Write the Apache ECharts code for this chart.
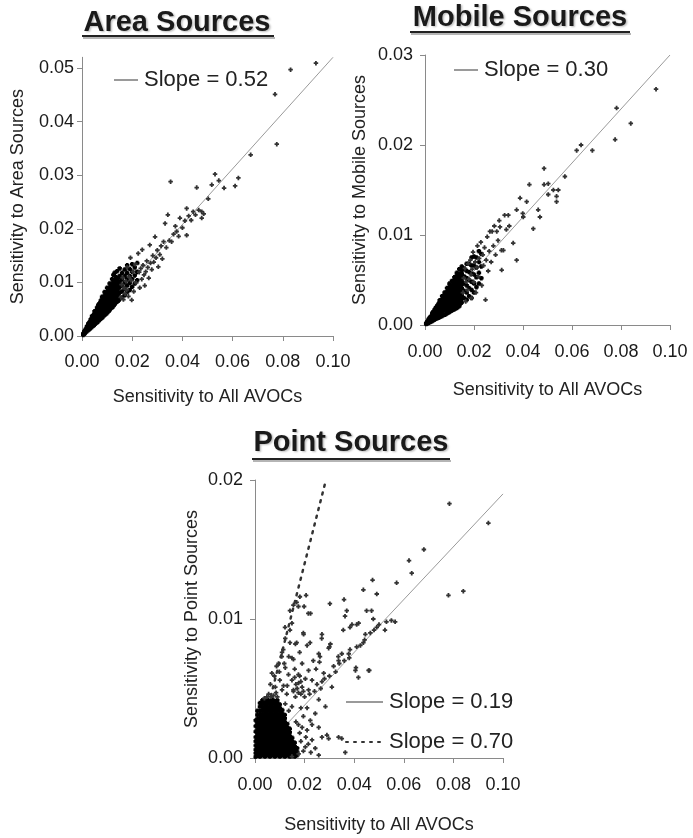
<!DOCTYPE html>
<html>
<head>
<meta charset="UTF-8">
<title>Source Sensitivities</title>
<script src="https://cdn.jsdelivr.net/npm/echarts@6/dist/echarts.min.js"></script>
<style>html,body{margin:0;padding:0;background:#fff;}</style>
</head>
<body>
<div id="main" style="width:693px;height:838px"></div>
<script type="text/javascript">
// tick labels
var xTicks = [0, 0.02, 0.04, 0.06, 0.08, 0.10];
var areaYTicks = [0, 0.01, 0.02, 0.03, 0.04, 0.05];
var mobileYTicks = [0, 0.01, 0.02, 0.03];
var pointYTicks = [0, 0.01, 0.02];

// fitted lines
var slopeNames = ['Slope = 0.52', 'Slope = 0.30', 'Slope = 0.19', 'Slope = 0.70'];
var areaFit = [[0, 0], [0.1, 0.052]];
var mobileFit = [[0, 0], [0.1, 0.030]];
var pointFit = [[0, 0], [0.1, 0.019]];
var pointFit2 = [[0, 0], [0.0286, 0.020]];

// scatter values, in units of 0.001
// dense clusters as columns: [x, [y, y, ...]]
var areaCore = [
  [0.5,[0.2,0.35,0.45]], [1,[0.4,0.6,0.8,0.9]], [1.5,[0.7,0.9,1.1,1.3]],
  [2,[0.9,1.1,1.3,1.5,1.8]], [2.5,[1.1,1.4,1.7,2.0,2.3]], [3,[1.3,1.6,1.9,2.2,2.6]],
  [3.5,[1.5,1.9,2.3,2.7,3.1]], [4,[1.7,2.1,2.5,2.9,3.3,3.7]], [4.5,[1.9,2.4,2.9,3.4,3.9]],
  [5,[2.1,2.6,3.1,3.6,4.1,4.6]], [5.5,[2.4,2.9,3.5,4.0,4.6]], [6,[2.5,3.0,3.6,4.1,4.7,5.3]],
  [6.5,[2.8,3.4,4.0,4.6,5.2,5.8]], [7,[3.0,3.6,4.2,4.8,5.4,6.1]], [7.5,[3.2,3.9,4.5,5.2,5.8,6.6]],
  [8,[3.4,4.1,4.8,5.4,6.1,6.8,7.3]], [8.5,[3.7,4.4,5.1,5.8,6.5,7.2]], [9,[3.9,4.6,5.3,6.0,6.7,7.5,8.2]],
  [9.5,[4.1,4.9,5.7,6.4,7.1,7.9]], [10,[4.3,5.1,5.9,6.6,7.4,8.2,9.0]], [10.5,[4.6,5.5,6.3,7.0,7.8,8.7]],
  [11,[4.8,5.7,6.5,7.3,8.1,9.0,9.8]], [11.5,[5.2,6.1,6.9,7.7,8.6,9.4]], [12,[5.3,6.2,7.1,8.0,8.8,9.6,10.6]],
  [12.5,[5.6,6.6,7.4,8.3,9.2,10.1,11.4]], [13,[5.9,6.8,7.8,8.6,9.5,10.4,11.8]], [13.5,[6.2,7.1,8.1,9.0,10.0,11.0]],
  [14,[6.4,7.5,8.4,9.3,10.3,12.1]], [14.5,[6.6,7.8,8.9,9.8,10.8]], [15,[6.9,8.1,9.1,10.1,11.2,12.6]],
  [16,[7.2,8.3,9.4,10.6,11.8]], [17,[7.6,8.8,10.0,11.2,12.4]], [18,[8.2,9.4,10.6,11.8,13.2]],
  [19,[8.6,9.9,11.2,12.5]], [20,[9.2,10.6,12.0,13.4]], [21,[9.8,11.3,12.8]], [22,[10.4,12.0,13.6]]
];
var areaSparse = [
  [15.5,7.2],[15.8,9.6],[16.2,10.9],[16.5,6.8],[16.8,9.0],[17.2,7.9],[17.5,10.2],[17.8,8.6],
  [18,12.8],[18.5,7.4],[18.8,11.0],[19.3,14.6],[19.5,10.4],[19.8,6.7],[20.3,12.0],[20.6,8.3],
  [21.3,13.4],[21.6,9.9],[22.4,15.4],[22.8,11.9],[23,9.0],[23.4,12.6],[23.8,10.6],[24,16.1],
  [24.3,13.2],[24.7,11.4],[25,9.4],[25.4,12.0],[25.8,14.0],[26.2,12.8],[26.6,10.8],[27,17.0],
  [27.3,13.6],[27.8,12.4],[28.2,15.0],[28.6,13.8],[29.1,18.5],[29.5,14.6],[30,16.0],[30.4,12.9],
  [31,15.2],[31.5,16.8],[32,14.4],[32.5,17.6],[33.1,21.0],[33.6,16.5],[34.2,22.6],[34.8,17.8],
  [35.3,28.8],[35.7,17.6],[36.5,19.0],[37.2,20.5],[37.7,19.5],[38.5,18.6],[39,22.0],[40,20.2],
  [41,21.5],[41.7,23.8],[41.7,18.8],[42.5,22.4],[43.5,21.6],[44.3,23.2],[45.2,22.6],[45.7,27.7],
  [46.5,23.5],[47.7,23.2],[47.7,22.0],[48.5,22.8],[50.3,25.6],[51.7,28.2],[53.0,30.2],[54.5,29.0],
  [56.6,27.6],[61.0,28.0],[62.3,29.5],[67.2,33.8],[76.9,45.1],[77.6,35.8],[83.1,49.7],[93.2,50.9]
];

var mobileCore = [
  [0.5,[0.1,0.15,0.22]], [1,[0.2,0.3,0.4]], [1.5,[0.25,0.4,0.55,0.65]], [2,[0.3,0.5,0.7,0.85]],
  [2.5,[0.4,0.6,0.8,1.0]], [3,[0.45,0.7,0.95,1.2,1.35]], [3.5,[0.55,0.8,1.05,1.3,1.5]],
  [4,[0.6,0.9,1.2,1.45,1.75]], [4.5,[0.7,1.0,1.3,1.6,1.95]], [5,[0.75,1.1,1.45,1.8,2.15]],
  [5.5,[0.8,1.2,1.55,1.95,2.35]], [6,[0.9,1.3,1.7,2.1,2.5,2.75]], [6.5,[0.95,1.4,1.85,2.25,2.7]],
  [7,[1.0,1.5,1.95,2.4,2.85,3.2]], [7.5,[1.1,1.6,2.1,2.6,3.05]], [8,[1.15,1.7,2.2,2.75,3.25,3.6]],
  [8.5,[1.2,1.8,2.35,2.9,3.45]], [9,[1.3,1.7,2.1,2.5,2.9,3.3,3.7,4.1]], [9.5,[1.4,2.0,2.6,3.2,3.8]],
  [10,[1.45,1.85,2.25,2.65,3.05,3.45,3.85,4.25,4.6]], [10.5,[1.55,2.2,2.85,3.5,4.15]],
  [11,[1.6,2.0,2.4,2.8,3.2,3.6,4.0,4.4,4.9]], [11.5,[1.7,2.45,3.15,3.85,4.5]],
  [12,[1.75,2.15,2.55,2.95,3.35,3.75,4.15,4.55,4.95,5.3]], [12.5,[1.85,2.65,3.4,4.15,4.9]],
  [13,[1.9,2.3,2.7,3.1,3.5,3.9,4.3,4.7,5.1,5.5,5.8]], [13.5,[2.0,2.9,3.7,4.5,5.3]],
  [14,[2.1,2.5,2.9,3.3,3.7,4.1,4.5,4.9,5.3,5.7,6.2]], [14.5,[2.4,3.2,4.0,4.8,5.7]],
  [15,[2.5,2.9,3.3,3.7,4.1,4.5,4.9,5.3,5.7,6.1,6.5]], [16,[3.0,3.8,4.6,5.4,6.2]],
  [17,[2.8,3.6,4.4,5.2,6.0,6.8]], [18,[3.2,4.1,5.0,5.9,6.8]], [19,[3.0,3.9,4.8,5.7,6.6,7.5]],
  [20,[3.6,4.6,5.6,6.6,7.6]], [21,[4.2,5.3,6.4,7.5]], [22,[4.6,5.8,7.0,8.2]], [23,[5.2,6.5,7.9]]
];
var mobileSparse = [
  [15.5,3.6],[15.8,5.2],[16.3,6.3],[16.6,2.6],[16.8,4.8],[17.3,3.9],[17.6,6.8],[17.9,5.1],
  [18.5,7.2],[18.8,5.6],[19,3.0],[19.3,6.2],[19.6,8.1],[19.9,4.8],[20.5,7.0],[20.8,3.6],
  [21.1,6.4],[21.4,8.8],[21.8,5.4],[22.1,7.4],[22.8,9.2],[23.2,4.4],[23.6,7.8],[23.9,6.6],
  [24.3,8.6],[24.7,2.8],[25,7.2],[25.4,9.8],[25.8,6.0],[26.2,8.2],[26.5,10.4],[27,7.0],
  [27.4,10.4],[27.9,8.8],[28.3,11.0],[28.8,7.8],[29.3,10.4],[29.8,9.4],[30.3,11.6],[30.6,10.9],
  [31.2,8.3],[31.3,6.1],[32,8.3],[32.5,12.2],[33.2,10.6],[34,12.2],[34.4,11.0],[36,9.1],
  [37.4,7.2],[37.4,12.8],[38.8,14.1],[39.9,12.4],[40.1,12.0],[41.5,13.7],[42.6,15.6],[44.2,10.7],
  [46.2,12.8],[46.9,12.0],[48.6,15.6],[48.6,17.4],[50.3,15.7],[50.3,14.5],[52.4,15.0],[53.7,14.3],
  [53.7,13.7],[54.4,15.0],[57.1,16.5],[61.9,19.4],[63.7,20.0],[68.3,19.4],[77.6,20.6],[78.2,24.1],
  [84.0,22.4],[94.3,26.2]
];

var pointCore = [
  [0.3,[0.1,0.35,0.6,0.9,1.2,1.5,1.9,2.3,2.7]],
  [1,[0.2,0.45,0.7,0.95,1.2,1.45,1.7,1.95,2.2,2.5,2.8,3.1,3.4]],
  [2,[0.1,0.35,0.6,0.85,1.1,1.35,1.6,1.85,2.1,2.35,2.6,2.85,3.1,3.4,3.7,3.95]],
  [3,[0.2,0.45,0.7,0.95,1.2,1.45,1.7,1.95,2.2,2.45,2.7,2.95,3.2,3.45,3.7,3.95,4.15]],
  [4,[0.1,0.35,0.6,0.85,1.1,1.35,1.6,1.85,2.1,2.35,2.6,2.85,3.1,3.35,3.6,3.85,4.1]],
  [5,[0.2,0.45,0.7,0.95,1.2,1.45,1.7,1.95,2.2,2.45,2.7,2.95,3.2,3.45,3.7,3.95,4.2]],
  [6,[0.1,0.35,0.6,0.85,1.1,1.35,1.6,1.85,2.1,2.35,2.6,2.85,3.1,3.35,3.6,3.85,4.1]],
  [7,[0.2,0.45,0.7,0.95,1.2,1.45,1.7,1.95,2.2,2.45,2.7,2.95,3.2,3.45,3.7,3.95,4.2]],
  [8,[0.1,0.35,0.6,0.85,1.1,1.35,1.6,1.85,2.1,2.35,2.6,2.85,3.1,3.35,3.6,3.85,4.1]],
  [9,[0.2,0.45,0.7,0.95,1.2,1.45,1.7,1.95,2.2,2.45,2.7,2.95,3.2,3.45,3.7,3.95,4.15]],
  [10,[0.1,0.35,0.6,0.85,1.1,1.35,1.6,1.85,2.1,2.35,2.6,2.85,3.1,3.35,3.6,3.85]],
  [11,[0.2,0.45,0.7,0.95,1.2,1.45,1.7,1.95,2.2,2.45,2.7,2.95,3.2,3.45]],
  [12,[0.1,0.35,0.6,0.85,1.1,1.35,1.6,1.85,2.1,2.35,2.6,2.85,3.1]],
  [13,[0.2,0.45,0.7,0.95,1.2,1.45,1.7,1.95,2.2,2.45]],
  [14,[0.1,0.35,0.6,0.85,1.1,1.35,1.6,1.85,2.1]],
  [15,[0.2,0.45,0.7,0.95,1.2,1.45]],
  [16,[0.1,0.35,0.6,0.85,1.1]],
  [17,[0.2,0.45,0.7]]
];
var pointSparse = [
  [78.4,18.3],[94.1,16.9],[68.1,15.0],[62.1,14.2],[63.2,13.3],[57.1,12.6],[47.4,12.8],[43.7,12.1],
  [49.1,11.8],[78.0,11.7],[84.0,12.0],[35.9,11.4],[30.2,11.1],[37.0,10.6],[36.3,10.2],[45.0,10.6],
  [47.0,10.6],[47.7,10.0],[53.0,9.8],[55.0,9.9],[56.5,9.8],[52.4,9.2],[49.1,9.4],[41.0,9.6],
  [38.3,9.4],[35.6,9.2],[40.7,6.5],[41.7,5.8],[46.1,6.3],[20.6,11.7],[22.4,10.4],[18.1,11.6],
  [17.5,10.9],[19.8,10.9],[15.5,11.0],[19.5,9.0],[22.2,8.3],[16.8,8.3],[14.1,8.3],[26.9,8.6],
  [30.0,8.0],[11.4,7.8],[10.8,7.3],[15.5,7.1],[8.7,6.6],[26.2,7.3],[33.6,7.3],[35.0,7.5],
  [38.3,7.8],[41.0,8.0],[43.7,8.3],[14.1,10.6],[12.1,9.4],[14.1,9.2],[16.8,11.2],[21.5,10.4],
  [14.9,9.7],[12.2,8.6],[19.6,8.9],[16.3,8.2],[21.0,8.1],[27.0,8.9],[30.4,8.2],[39.1,9.6],
  [41.8,9.7],[44.5,8.9],[46.5,9.0],[10.9,7.6],[13.6,7.3],[14.9,7.2],[9.5,6.8],[12.2,6.5],
  [19.0,6.8],[21.6,6.3],[25.7,7.5],[29.7,7.9],[33.7,7.0],[37.8,7.5],[31.7,6.6],[27.7,6.1],
  [25.0,5.3],[23.0,5.6],[27.0,5.5],[31.0,5.1],[40.5,6.3],[45.8,6.3],[6.8,6.1],[8.2,5.1],
  [10.9,4.9],[14.9,5.6],[17.6,5.4],[19.0,5.1],[20.3,5.7],[21.6,4.9],[16.3,4.4],[25.7,4.2],
  [24.3,3.2],[28.4,3.7],[22.3,2.7],[19.0,2.2],[21.0,2.0],[25.7,2.2],[27.0,1.5],[29.0,1.65],
  [23.0,1.3],[29.7,1.4],[33.7,1.5],[35.0,1.4],[20.3,0.8],[24.3,0.7],[36.4,0.4],[14.9,0.1],
  [17.6,0.3],[25.7,0.2],[12.2,3.9],[13.6,3.4],[14.9,3.7],
  [22,4.6],[24,4.8],[26.5,5.0],[28,5.7],[30,5.9],[32.5,6.2],[34,6.8],[36,7.0],[38,7.2],
  [42.5,8.1],[44.2,8.5],[48,9.2],[50,9.6],
  [5.5,4.6],[6.2,5.3],[7.5,4.5],[9,4.4],[10,5.6],[11.5,5.2],[12.8,4.6],[13.5,6.0],[7.8,5.9],
  [9.8,6.2],[11.8,6.8],[16,6.4],[17.5,6.0],[18.5,4.6],[20,4.4],[6.5,4.4],[8.5,4.7],[4.8,4.4],
  [3.8,4.3],[13,5.2],[15.5,4.8],[17,5.0],[18,7.6],[23.5,7.0],[24.6,6.4],[26,6.9],
  [15.5,4.9],[16.5,5.3],[17.5,4.7],[18.5,5.5],[19.5,4.8],[16,5.8],[18,5.9],
  [18.5,1.2],[19.5,0.5],[21.5,1.0],[22.5,0.4],[18,1.8],[20.5,1.5],[17.5,2.4],[16.5,2.6],
  [19.5,3.0],[21,3.6],[18.5,3.6],[23,2.4]
];

function coreToPoints(core) {
  var out = [];
  core.forEach(function (col) {
    col[1].forEach(function (y) { out.push([col[0] / 1000, y / 1000]); });
  });
  return out;
}
function sparseToPoints(sparse) {
  return sparse.map(function (p) { return [p[0] / 1000, p[1] / 1000]; });
}

var FONT = '"Liberation Sans", Arial, sans-serif';
var AXIS_GRAY = '#8a8a8a';
var PLUS = 'path://M1.5,0H3.5V1.5H5V3.5H3.5V5H1.5V3.5H0V1.5H1.5Z';
var BLOB = 'path://M1,0H4V1H5V4H4V5H1V4H0V1H1Z';

function fmt(v) { return v.toFixed(2); }

function xAxisFor(idx, margin, gap) {
  return {
    type: 'value', gridIndex: idx, min: 0, max: 0.1,
    name: 'Sensitivity to All AVOCs', nameLocation: 'middle', nameGap: gap,
    nameTextStyle: { fontFamily: FONT, fontSize: 18, color: '#222' },
    axisLine: { show: true, onZero: false, lineStyle: { color: AXIS_GRAY, width: 1 } },
    axisTick: { show: true, length: 5, customValues: xTicks, lineStyle: { color: AXIS_GRAY } },
    axisLabel: { show: true, customValues: xTicks, formatter: fmt, margin: margin,
                 fontFamily: FONT, fontSize: 18, color: '#1a1a1a' },
    splitLine: { show: false }
  };
}
function yAxisFor(idx, max, ticks, name, margin, gap) {
  return {
    type: 'value', gridIndex: idx, min: 0, max: max,
    name: name, nameLocation: 'middle', nameRotate: 90, nameGap: gap,
    nameTextStyle: { fontFamily: FONT, fontSize: 18, color: '#222' },
    axisLine: { show: true, onZero: false, lineStyle: { color: AXIS_GRAY, width: 1 } },
    axisTick: { show: true, length: 5, customValues: ticks, lineStyle: { color: AXIS_GRAY } },
    axisLabel: { show: true, customValues: ticks, formatter: fmt, margin: margin,
                 fontFamily: FONT, fontSize: 18, color: '#1a1a1a' },
    splitLine: { show: false }
  };
}
function scatterFor(idx, pts, sym, size, color) {
  return {
    type: 'scatter', xAxisIndex: idx, yAxisIndex: idx, data: pts,
    symbol: sym, symbolSize: size, itemStyle: { color: color, opacity: 1 },
    silent: true, animation: false, z: 3
  };
}
function fitFor(idx, name, pts, style) {
  return {
    type: 'line', name: name, xAxisIndex: idx, yAxisIndex: idx, data: pts,
    symbol: 'none', showSymbol: false, lineStyle: style, itemStyle: { color: style.color },
    silent: true, animation: false, z: 1
  };
}
function titleFor(text, cx, top) {
  return {
    text: text, left: cx, top: top, textAlign: 'center', padding: 0,
    textStyle: { fontFamily: FONT, fontSize: 29, fontWeight: 'bold', color: '#1a1a1a',
                 textShadowColor: 'rgba(0,0,0,0.25)', textShadowOffsetX: 1.5, textShadowOffsetY: 1.5, textShadowBlur: 2 }
  };
}
function underline(x1, x2, y) {
  return [
    { type: 'line', shape: { x1: x1 + 1, y1: y + 2, x2: x2 + 1, y2: y + 2 }, style: { stroke: '#b5b5b5', lineWidth: 2 } },
    { type: 'line', shape: { x1: x1, y1: y, x2: x2, y2: y }, style: { stroke: '#222', lineWidth: 2 } }
  ];
}
function legendFor(names, left, top, w, vertical) {
  return {
    data: names, left: left, top: top, padding: 0, itemWidth: w, itemHeight: 14, itemGap: 18,
    orient: vertical ? 'vertical' : 'horizontal', selectedMode: false,
    itemStyle: { opacity: 0 },
    textStyle: { fontFamily: FONT, fontSize: 22, color: '#222', padding: [0, 0, 0, 1] }
  };
}

var thinGray = { color: '#9a9a9a', width: 1, type: 'solid' };
var dots = { color: '#333', width: 2.5, type: [2, 6], cap: 'round' };

var chart = echarts.init(document.getElementById('main'));
var option = {
  backgroundColor: '#fff',
  animation: false,
  title: [
    titleFor('Area Sources', 177, 8),
    titleFor('Mobile Sources', 520, 3),
    titleFor('Point Sources', 351, 428)
  ],
  graphic: underline(82, 274, 36).concat(underline(410, 630, 32)).concat(underline(252, 450, 459)),
  legend: [
    legendFor([slopeNames[0]], 113, 69, 24, false),
    legendFor([slopeNames[1]], 453, 59, 24, false),
    legendFor([slopeNames[2], slopeNames[3]], 345, 691, 37, true)
  ],
  grid: [
    { left: 82, top: 57.3, right: 360, bottom: 502 },
    { left: 425, top: 55, right: 23, bottom: 513 },
    { left: 255, top: 480, right: 190, bottom: 80 }
  ],
  xAxis: [xAxisFor(0, 17, 52), xAxisFor(1, 18, 56), xAxisFor(2, 18, 58)],
  yAxis: [
    yAxisFor(0, 0.052, areaYTicks, 'Sensitivity to Area Sources', 8, 55),
    yAxisFor(1, 0.03, mobileYTicks, 'Sensitivity to Mobile Sources', 12, 56),
    yAxisFor(2, 0.02, pointYTicks, 'Sensitivity to Point Sources', 12, 54)
  ],
  series: [
    scatterFor(0, coreToPoints(areaCore), BLOB, 4.5, '#000'),
    scatterFor(0, sparseToPoints(areaSparse), PLUS, 4.5, '#333'),
    scatterFor(1, coreToPoints(mobileCore), BLOB, 4.5, '#000'),
    scatterFor(1, sparseToPoints(mobileSparse), PLUS, 4.5, '#333'),
    scatterFor(2, coreToPoints(pointCore), BLOB, 4.5, '#000'),
    scatterFor(2, sparseToPoints(pointSparse), PLUS, 4.5, '#333'),
    fitFor(0, slopeNames[0], areaFit, thinGray),
    fitFor(1, slopeNames[1], mobileFit, thinGray),
    fitFor(2, slopeNames[2], pointFit, thinGray),
    fitFor(2, slopeNames[3], pointFit2, dots)
  ]
};
chart.setOption(option);
</script>
</body>
</html>
